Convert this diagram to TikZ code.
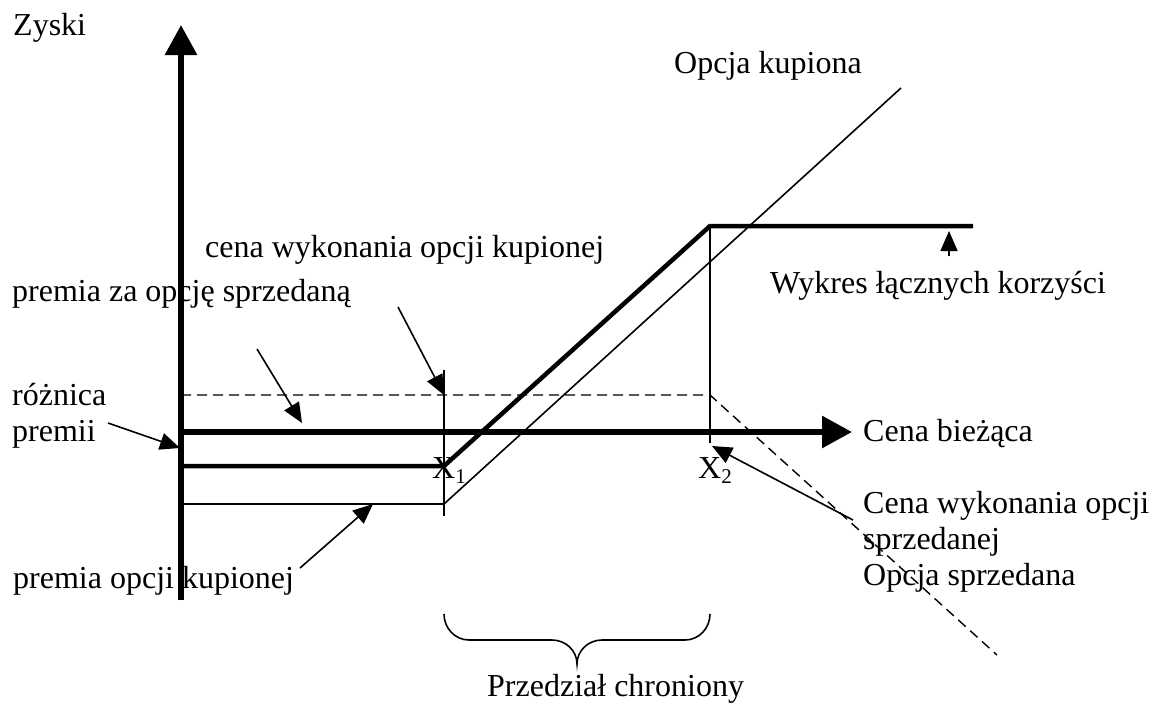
\documentclass[tikz,border=0pt]{standalone}
\usepackage{fontspec}
\setmainfont{Liberation Serif}
\usetikzlibrary{arrows.meta}
\newcommand{\subn}[1]{\raisebox{-0.35ex}{\fontsize{21}{21}\selectfont #1}}
\begin{document}
\begin{tikzpicture}[x=1pt,y=-1pt,
  lbl/.style={anchor=base west, inner sep=0pt, font=\fontsize{32}{36}\selectfont},
  axisline/.style={line width=6pt, -{Triangle[length=30pt,width=31pt]}},
  profit/.style={line width=4.5pt, line join=miter},
  thinline/.style={line width=1.6pt},
  dashline/.style={line width=1.4pt, dash pattern=on 10pt off 6pt},
  ptr/.style={line width=1.6pt, -{Triangle[length=20pt,width=17pt]}},
  bracestyle/.style={line width=1.6pt}
]
\useasboundingbox (0,0) rectangle (1151,702);

% key points
\coordinate (Ybot) at (181,600);
\coordinate (Ytop) at (181,25);
\coordinate (Xstart) at (178,432);
\coordinate (Xend) at (852,432);
\coordinate (X1top) at (444,370);
\coordinate (X1bot) at (444,516);
\coordinate (X2top) at (710,226);
\coordinate (X2bot) at (710,443);
\coordinate (P0) at (181,466);
\coordinate (P1) at (444,466);
\coordinate (P2) at (710,226);
\coordinate (P3) at (973,226);
\coordinate (C0) at (181,504);
\coordinate (C1) at (444,504);
\coordinate (C2) at (901,88);
\coordinate (S0) at (181,395);
\coordinate (S1) at (710,395);
\coordinate (S2) at (997,655);

% axes
\draw[axisline] (Ybot) -- (Ytop);
\draw[axisline] (Xstart) -- (Xend);

% lines
\draw[dashline] (S0) -- (S1) -- (S2);
\draw[thinline] (C0) -- (C1) -- (C2);
\draw[thinline] (X1top) -- (X1bot);
\draw[thinline] (X2top) -- (X2bot);
\draw[profit] (P0) -- (P1) -- (P2) -- (P3);

% labels
\node[lbl] (zyski) at (13,35) {Zyski};
\node[lbl] (kup) at (674,73) {Opcja kupiona};
\node[lbl] (cwk) at (205,257) {cena wykonania opcji kupionej};
\node[lbl] (pzs) at (12,301) {premia za opcję sprzedaną};
\node[lbl] (roz1) at (12,405) {różnica};
\node[lbl] (roz2) at (12,441) {premii};
\node[lbl] (cb) at (863,441) {Cena bieżąca};
\node[lbl] (wyk) at (770,293) {Wykres łącznych korzyści};
\node[lbl] (cwo1) at (863,513) {Cena wykonania opcji};
\node[lbl] (cwo2) at (863,549) {sprzedanej};
\node[lbl] (osp) at (863,585) {Opcja sprzedana};
\node[lbl] (pok) at (13,588) {premia opcji kupionej};
\node[lbl] (prz) at (487,696) {Przedział chroniony};
\node[lbl] (x1) at (432,478) {X\subn{1}};
\node[lbl] (x2) at (698,478) {X\subn{2}};

% pointer arrows
\coordinate (a1s) at (257,349);
\coordinate (a1e) at (302,423);
\coordinate (a2s) at (398,307);
\coordinate (a2e) at (444,395);
\coordinate (a3s) at (108,423);
\coordinate (a3e) at (180,448);
\coordinate (a4s) at (300,568);
\coordinate (a4e) at (373,504);
\coordinate (a5s) at (949,256);
\coordinate (a5e) at (949,231);
\coordinate (a6s) at (853,520);
\coordinate (a6e) at (712,446);
\draw[ptr] (a1s) -- (a1e);
\draw[ptr] (a2s) -- (a2e);
\draw[ptr] (a3s) -- (a3e);
\draw[ptr] (a4s) -- (a4e);
\draw[ptr] (a5s) -- (a5e);
\draw[ptr] (a6s) -- (a6e);

% brace
\coordinate (b0) at (444,614);
\coordinate (b1) at (710,614);
\draw[bracestyle] (b0) to[out=-90,in=180] (469,640) -- (552,640)
  to[out=0,in=90] (577,664) to[out=90,in=180] (602,640) -- (685,640)
  to[out=0,in=-90] (b1);
\end{tikzpicture}
\end{document}
